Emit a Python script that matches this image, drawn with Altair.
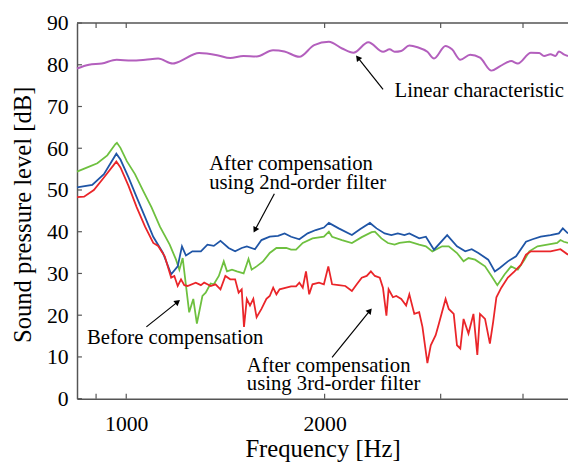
import altair as alt
import pandas as pd

# ---------------- data ----------------
lin_f = [842, 878, 918, 967, 1018, 1069, 1118, 1177, 1197, 1290, 1374, 1438, 1506, 1577,
         1670, 1738, 1831, 1928, 2030, 2126, 2212, 2330, 2453, 2510, 2554, 2614, 2689,
         2767, 2864, 2931, 3051, 3121, 3213, 3326, 3442, 3583, 3688, 3838, 3928, 4112,
         4232, 4306, 4404, 4481, 4534, 4613, 4681]
lin_db = [79.1, 80.0, 80.3, 81.2, 81.0, 81.2, 81.5, 80.3, 80.6, 82.8, 82.3, 81.6, 82.1, 82.0,
          83.5, 83.2, 81.9, 84.7, 85.5, 83.9, 82.9, 85.4, 83.1, 83.7, 83.1, 83.3, 84.6,
          84.2, 83.1, 81.5, 84.5, 83.7, 81.2, 82.4, 81.7, 78.6, 79.6, 80.9, 80.3, 82.9,
          82.8, 82.1, 82.5, 82.1, 83.2, 82.5, 82.1]

grn_f = [842, 873, 904, 936, 963, 968, 980, 1002, 1031, 1061, 1092, 1125, 1164, 1190, 1204,
         1218, 1246, 1264, 1280, 1305, 1320, 1343, 1358, 1382, 1406, 1422, 1447, 1472, 1507,
         1533, 1550, 1577, 1613, 1651, 1690, 1749, 1779, 1810, 1853, 1917, 1995, 2030, 2053,
         2125, 2200, 2277, 2357, 2384, 2439, 2495, 2554, 2598, 2689, 2783, 2849, 2914, 3016,
         3086, 3176, 3250, 3306, 3384, 3503, 3583, 3657, 3752, 3837, 3928, 4020, 4089, 4208,
         4355, 4507, 4559, 4613, 4681]
grn_db = [54.4, 55.4, 56.4, 58.3, 61.0, 61.3, 60.1, 56.9, 53.8, 49.8, 45.9, 41.2, 36.9, 33.3, 30.9,
          33.7, 20.7, 23.9, 18.0, 24.6, 25.4, 27.6, 27.4, 29.4, 32.9, 30.5, 30.9, 30.5, 30.0,
          33.5, 30.9, 31.7, 32.9, 34.9, 36.1, 36.1, 35.7, 35.7, 37.3, 38.4, 38.8, 40.0, 38.8,
          38.0, 37.3, 38.7, 39.9, 40.0, 38.4, 37.3, 36.9, 37.3, 37.6, 36.9, 36.5, 35.3, 36.5,
          36.5, 34.9, 32.9, 33.7, 33.3, 31.7, 29.4, 27.2, 29.8, 31.7, 30.9, 33.3, 35.3, 36.5,
          36.9, 37.3, 38.0, 37.6, 37.3]

blu_f = [842, 888, 925, 966, 980, 1008, 1037, 1068, 1099, 1137, 1170, 1197, 1215, 1232, 1260,
         1298, 1328, 1358, 1390, 1430, 1463, 1497, 1524, 1568, 1604, 1651, 1700, 1739, 1779,
         1831, 1885, 1939, 1995, 2030, 2101, 2200, 2263, 2343, 2398, 2467, 2525, 2583, 2643,
         2689, 2783, 2849, 2931, 3069, 3176, 3269, 3344, 3422, 3542, 3625, 3688, 3794, 3904,
         4042, 4136, 4256, 4404, 4534, 4597, 4681]
blu_db = [50.6, 51.2, 53.8, 58.7, 57.3, 53.0, 48.3, 43.5, 38.8, 34.9, 29.8, 31.7, 36.5, 34.3, 35.3,
          35.3, 36.9, 36.6, 37.8, 36.1, 35.3, 36.1, 36.5, 35.8, 38.0, 38.8, 39.0, 39.6, 38.8,
          38.2, 39.6, 40.4, 41.0, 42.1, 40.8, 39.2, 40.6, 42.1, 40.8, 39.6, 39.2, 39.6, 39.2,
          39.6, 38.4, 38.8, 35.7, 39.2, 36.5, 35.3, 35.8, 34.9, 33.3, 30.5, 31.3, 32.9, 34.1,
          37.6, 38.2, 38.8, 39.2, 39.6, 40.8, 39.6]

red_f = [842, 863, 893, 925, 966, 980, 1008, 1037, 1068, 1099, 1118, 1144, 1170, 1183, 1197,
         1211, 1225, 1239, 1275, 1298, 1313, 1328, 1343, 1366, 1390, 1414, 1438, 1463, 1481,
         1497, 1509, 1524, 1541, 1559, 1577, 1604, 1632, 1651, 1671, 1690, 1709, 1749, 1779,
         1810, 1831, 1853, 1874, 1895, 1917, 1961, 1995, 2026, 2053, 2101, 2150, 2200, 2238,
         2277, 2317, 2351, 2384, 2425, 2452, 2482, 2501, 2539, 2569, 2614, 2659, 2689, 2736,
         2783, 2815, 2864, 2898, 2948, 2982, 3052, 3086, 3140, 3176, 3213, 3250, 3306, 3364,
         3410, 3442, 3503, 3563, 3604, 3645, 3708, 3794, 3883, 3972, 4042, 4112, 4256, 4404,
         4559, 4681]
red_db = [48.3, 48.4, 50.0, 53.0, 56.8, 55.4, 51.0, 45.9, 41.2, 37.3, 36.6, 34.1, 29.0, 29.4, 27.0,
          28.6, 27.2, 27.0, 27.8, 27.2, 27.8, 27.4, 27.0, 27.4, 26.2, 29.4, 28.6, 28.6, 25.4,
          26.2, 17.2, 23.9, 22.3, 23.9, 19.5, 21.5, 23.9, 24.6, 26.6, 25.0, 26.2, 26.6, 26.9,
          26.9, 27.8, 26.6, 30.5, 25.0, 27.4, 27.8, 27.4, 31.7, 27.4, 27.2, 27.0, 25.8, 27.4,
          29.0, 29.4, 30.5, 29.4, 29.0, 26.6, 19.9, 26.2, 24.3, 24.6, 23.9, 22.3, 25.0, 20.3,
          20.7, 17.2, 8.5, 12.8, 15.2, 18.0, 23.9, 21.5, 20.3, 12.8, 12.0, 19.1, 15.6, 20.3,
          10.5, 20.3, 19.1, 13.2, 18.4, 24.3, 26.6, 29.0, 30.5, 32.1, 34.5, 35.3, 35.3, 35.3,
          35.8, 34.5]

series_names = ["Linear characteristic", "Before compensation",
                "2nd-order filter", "3rd-order filter"]
series_colors = ["#b35fbd", "#6ec03f", "#1f55a6", "#ea2529"]

x_ticks = [900, 1000, 2000, 3000, 4000]
x_labels = [1000, 2000]
y_ticks = [0, 10, 20, 30, 40, 50, 60, 70, 80, 90]

# annotations: text (left edge, vertical centre) in data units
ann_text = ["Linear characteristic", "After compensation", "using 2nd-order filter",
            "Before compensation", "After compensation", "using 3rd-order filter"]
ann_f = [2554, 1336, 1336, 872, 1524, 1524]
ann_db = [73.7, 56.2, 51.6, 14.4, 7.7, 3.4]

# arrows: tail -> tip in data units
arr_f0 = [2453, 1678, 1073, 2053]
arr_db0 = [74.1, 49.1, 17.2, 9.9]
arr_f1 = [2246, 1568, 1197, 2343]
arr_db1 = [81.7, 40.4, 23.2, 21.1]
arr_angle = [322, 208, 51, 39]

# ---------------- chart ----------------
W, H = 498, 381
FONT = "Liberation Serif"
AX = "#555555"

xscale = alt.Scale(type="log", domain=[842, 4681], nice=False)
yscale = alt.Scale(domain=[0, 90], nice=False)
cscale = alt.Scale(domain=series_names, range=series_colors)

label_expr = " || ".join(f"datum.value == {v}" for v in x_labels)
common_axis = dict(labelFont=FONT, labelFontSize=22, labelColor="black",
                   titleFont=FONT, titleFontSize=25, titleFontWeight="normal",
                   titleColor="black", domainColor=AX, domainWidth=1.5,
                   ticks=False, grid=False)
XAXIS = alt.Axis(values=x_ticks, format="d",
                 labelExpr=f"({label_expr}) ? datum.label : ''",
                 title="Frequency [Hz]", titleY=51, titleBaseline="middle",
                 labelPadding=15, **common_axis)
YAXIS = alt.Axis(values=y_ticks, title="Sound pressure level [dB]",
                 titleX=-55, titleY=194, titleBaseline="middle", labelPadding=9,
                 **common_axis)


def X(field):
    return alt.X(field, type="quantitative", scale=xscale, axis=XAXIS)


def Y(field):
    return alt.Y(field, type="quantitative", scale=yscale, axis=YAXIS)


frames = []
for name, f, d in zip(series_names, [lin_f, grn_f, blu_f, red_f],
                      [lin_db, grn_db, blu_db, red_db]):
    frames.append(pd.DataFrame({"f": f, "db": d, "s": name}))
df_lin = frames[0]
df_rest = pd.concat(frames[1:], ignore_index=True)

lin_layer = alt.Chart(df_lin).mark_line(strokeWidth=2, interpolate="monotone").encode(
    x=X("f"), y=Y("db"),
    color=alt.Color("s:N", scale=cscale, legend=None),
)

rest_layer = alt.Chart(df_rest).mark_line(strokeWidth=1.8).encode(
    x=X("f"), y=Y("db"),
    color=alt.Color("s:N", scale=cscale, legend=None),
    detail="s:N",
)

df_xt = pd.DataFrame({"f": x_ticks})
df_yt = pd.DataFrame({"db": y_ticks})

bottom_ticks = alt.Chart(df_xt).mark_rule(color=AX, strokeWidth=1.2).encode(
    x=X("f"), y=alt.value(H - 5), y2=alt.value(H))
top_ticks = alt.Chart(df_xt).mark_rule(color=AX, strokeWidth=1.2).encode(
    x=X("f"), y=alt.value(0), y2=alt.value(5))
left_ticks = alt.Chart(df_yt).mark_rule(color=AX, strokeWidth=1.2).encode(
    y=Y("db"), x=alt.value(0), x2=alt.value(5))
top_line = alt.Chart(df_xt.head(1)).mark_rule(color=AX, strokeWidth=1.5).encode(
    x=alt.value(0), x2=alt.value(W), y=alt.value(0))

df_ann = pd.DataFrame({"t": ann_text, "f": ann_f, "db": ann_db})
texts = alt.Chart(df_ann).mark_text(align="left", baseline="middle", font=FONT,
                                    fontSize=21, color="black").encode(
    x=X("f"), y=Y("db"), text="t:N")

df_arr = pd.DataFrame({"f": arr_f0, "db": arr_db0, "f1": arr_f1, "d1": arr_db1,
                       "ang": arr_angle})
arrow_lines = alt.Chart(df_arr).mark_rule(color="black", strokeWidth=1.2).encode(
    x=X("f"), y=Y("db"), x2="f1:Q", y2="d1:Q")
df_head = pd.DataFrame({"f": arr_f1, "db": arr_db1, "ang": arr_angle})
arrow_heads = alt.Chart(df_head).mark_point(shape="triangle-up", filled=True, size=45,
                                            color="black", opacity=1).encode(
    x=X("f"), y=Y("db"), angle=alt.Angle("ang:Q", scale=None))

chart = alt.layer(
    lin_layer, rest_layer, top_line, bottom_ticks, top_ticks, left_ticks,
    arrow_lines, arrow_heads, texts,
).properties(
    width=W, height=H,
    autosize=alt.AutoSizeParams(type="none"),
    padding={"left": 70, "top": 12, "right": 0, "bottom": 62},
).configure(
    font=FONT,
    style={"guide-label": {"font": FONT}, "guide-title": {"font": FONT}},
).configure_view(stroke=None).configure_axis(
    domainColor=AX, domainWidth=1.5, ticks=False, grid=False,
    labelFont=FONT, labelFontSize=22, labelColor="black",
    titleFont=FONT, titleFontSize=25, titleFontWeight="normal", titleColor="black",
)

chart.save("out.html", embed_options={"renderer": "svg", "actions": False})
